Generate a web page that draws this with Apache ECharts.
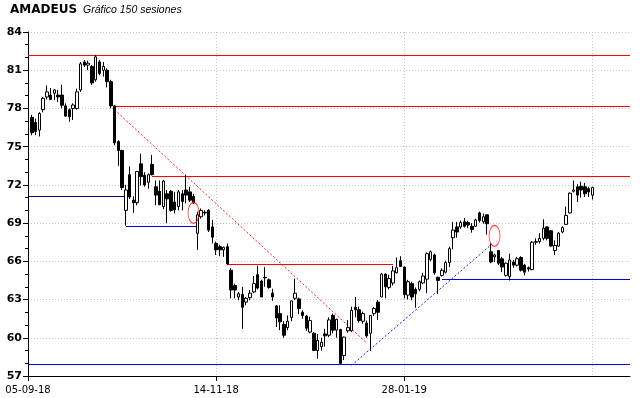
<!DOCTYPE html>
<html>
<head>
<meta charset="utf-8">
<script src="https://cdn.jsdelivr.net/npm/echarts@6.0.0/dist/echarts.min.js"></script>
<style>
  html, body { margin: 0; padding: 0; background: #fff; }
  #chart { width: 640px; height: 398px; }
</style>
</head>
<body>
<div id="chart"></div>
<script>
// slot 0 = 05-09-18, sessions sit in slots 1..150, slots 151..160 are empty space on the right
const dateLabels = ['05-09-18', '14-11-18', '28-01-19', '08-04-19']
const labelStep = 50
const slotCount = 161

const opens = [
  77.3, 76.9, 76.3, 77.9, 78.9, 79.05, 79.2, 79.05, 79.05, 78.2,
  77.9, 78.0, 78.0, 79.45, 81.65, 81.4, 81.3, 80.25, 81.65, 81.0,
  81.0, 80.1, 78.2, 75.4, 74.7, 70.0, 72.8, 70.8, 70.6, 73.65,
  72.75, 72.2, 73.6, 71.85, 71.5, 70.3, 71.3, 71.5, 70.65, 70.3,
  71.3, 71.6, 71.45, 71.1, 68.2, 69.5, 69.85, 70.0, 68.7, 67.4,
  67.15, 66.9, 67.15, 65.3, 64.1, 63.2, 63.4, 62.8, 63.15, 63.6,
  64.95, 64.45, 64.75, 64.55, 63.5, 62.5, 61.9, 61.05, 60.8, 61.6,
  63.1, 63.05, 62.0, 61.7, 60.45, 60.35, 59.0, 59.3, 60.3, 60.2,
  61.75, 60.6, 60.65, 58.6, 60.55, 60.55, 62.4, 62.2, 61.3, 61.15,
  60.35, 61.9, 62.8, 63.2, 65.0, 63.95, 64.3, 65.1, 66.05, 65.55,
  63.35, 64.25, 63.8, 63.8, 64.3, 64.6, 66.15, 66.5, 64.75, 64.9,
  65.15, 65.9, 67.85, 68.7, 68.7, 69.1, 69.05, 68.75, 68.75, 69.8,
  69.1, 69.65, 66.75, 66.35, 66.85, 66.2, 64.9, 64.8, 65.95, 65.7,
  66.3, 65.7, 65.5, 65.35, 67.5, 67.55, 67.8, 68.7, 68.4, 66.85,
  67.2, 68.3, 68.9, 69.8, 71.5, 71.85, 71.9, 71.85, 71.7, 71.2
]
const highs = [
  77.5, 77.2, 77.7, 78.9, 79.8, 79.6, 79.5, 79.45, 79.85, 78.4,
  78.0, 78.4, 79.55, 81.65, 81.8, 81.75, 81.4, 82.2, 81.8, 81.65,
  81.15, 80.25, 78.27, 75.5, 74.75, 72.0, 73.45, 71.1, 73.1, 74.45,
  73.0, 72.9, 74.35, 72.35, 72.35, 72.4, 71.6, 71.6, 71.45, 71.6,
  71.6, 72.8, 71.85, 71.3, 69.9, 70.15, 70.0, 70.1, 69.25, 67.55,
  67.3, 67.15, 67.4, 65.45, 64.25, 63.6, 64.0, 63.2, 63.75, 64.85,
  65.65, 64.55, 65.55, 64.65, 63.85, 62.55, 62.55, 61.3, 61.75, 62.9,
  64.65, 63.15, 62.15, 61.8, 61.65, 60.45, 60.3, 60.0, 60.7, 61.6,
  61.9, 61.5, 60.7, 60.1, 61.4, 62.45, 63.2, 62.45, 62.05, 61.35,
  61.8, 62.4, 62.95, 65.1, 65.05, 64.95, 65.65, 66.3, 66.4, 65.6,
  64.55, 64.4, 63.95, 64.5, 65.1, 66.7, 66.85, 66.6, 64.8, 65.45,
  66.05, 67.15, 69.1, 69.1, 69.2, 69.4, 69.2, 69.0, 69.35, 69.9,
  69.75, 69.7, 67.4, 66.6, 66.9, 66.35, 65.9, 66.6, 66.1, 66.35,
  66.4, 65.8, 65.6, 67.6, 67.8, 68.2, 69.3, 68.75, 68.45, 67.65,
  68.3, 68.75, 70.3, 71.4, 72.35, 72.05, 72.25, 72.15, 71.85, 71.85
]
const lows = [
  75.9, 75.9, 75.8, 77.7, 78.7, 78.65, 78.65, 78.5, 78.0, 77.35,
  76.95, 77.1, 77.9, 79.3, 81.25, 81.0, 79.85, 80.1, 80.6, 80.5,
  79.65, 78.0, 75.1, 73.5, 71.6, 68.8, 70.9, 69.8, 70.4, 71.95,
  71.85, 71.7, 72.75, 70.4, 70.4, 70.1, 69.0, 69.9, 69.75, 70.0,
  70.0, 70.55, 70.65, 70.5, 66.9, 69.35, 69.6, 68.3, 67.4, 66.5,
  66.4, 66.35, 65.7, 63.1, 63.1, 62.95, 60.7, 62.55, 62.95, 63.5,
  63.8, 63.2, 64.0, 63.85, 62.9, 60.85, 60.6, 60.0, 60.6, 61.3,
  62.95, 61.85, 61.5, 60.55, 60.35, 58.95, 58.35, 59.0, 59.3, 60.05,
  60.35, 60.0, 57.97, 58.25, 60.4, 60.45, 61.6, 61.2, 61.1, 60.0,
  58.95, 61.7, 61.4, 63.2, 63.1, 63.8, 64.1, 65.05, 65.55, 63.1,
  63.0, 62.95, 62.35, 63.65, 64.2, 63.5, 66.0, 64.95, 63.45, 64.8,
  65.05, 65.55, 66.95, 67.85, 68.55, 68.65, 68.6, 68.25, 68.7, 69.05,
  68.95, 68.1, 65.85, 65.95, 65.7, 65.15, 64.8, 64.5, 65.5, 65.6,
  65.2, 64.9, 65.2, 65.3, 67.3, 67.4, 67.65, 67.65, 67.15, 66.5,
  67.15, 68.2, 68.85, 69.75, 71.4, 70.65, 71.0, 71.05, 71.05, 70.85
]
const closes = [
  76.1, 76.2, 77.6, 78.8, 79.3, 78.7, 79.45, 78.9, 78.25, 77.4,
  77.35, 78.27, 79.3, 81.5, 81.4, 81.55, 80.0, 82.05, 80.75, 81.3,
  80.1, 78.2, 75.3, 74.7, 71.8, 71.6, 71.05, 70.6, 73.05, 72.65,
  72.0, 72.8, 72.8, 71.2, 70.45, 72.3, 70.9, 70.0, 70.05, 71.45,
  70.7, 71.2, 70.8, 70.6, 69.65, 70.0, 69.8, 68.45, 67.9, 66.9,
  66.9, 67.1, 65.8, 63.75, 63.75, 63.45, 62.4, 63.1, 63.5, 64.25,
  63.9, 63.2, 64.7, 63.95, 63.2, 61.55, 61.25, 60.2, 61.3, 62.9,
  63.5, 62.3, 61.75, 60.75, 61.35, 59.0, 59.8, 59.65, 60.15, 61.4,
  60.6, 61.45, 58.0, 60.05, 60.8, 62.15, 62.2, 61.35, 61.9, 60.15,
  61.75, 62.3, 62.0, 65.0, 64.0, 64.65, 65.25, 65.5, 65.6, 63.4,
  64.4, 63.2, 63.45, 64.4, 64.85, 66.6, 66.75, 65.1, 64.5, 65.3,
  65.9, 67.0, 68.45, 68.3, 69.05, 68.75, 68.85, 68.5, 69.25, 69.2,
  69.5, 68.95, 65.95, 66.5, 65.85, 65.55, 65.85, 66.1, 65.7, 66.2,
  65.3, 65.15, 65.4, 67.5, 67.55, 67.8, 68.6, 67.8, 67.2, 67.25,
  68.2, 68.65, 69.6, 71.35, 71.6, 71.2, 71.6, 71.3, 71.45, 71.8
]

// [price, first slot, last slot]
const resistances = [[82.2, 0, 160], [78.2, 23, 160], [72.7, 33, 160], [65.8, 53, 97]]
const supports = [[57.97, 0, 160], [64.65, 110, 160], [68.76, 26, 45]]
const previousLevel = [[71.14, 0, 26]]
const downTrend = [[23, 77.9], [90, 59.6]]
const upTrend = [[86, 57.84], [123, 67.27]]
const breakouts = [[44, 69.8], [124, 68.0]]

const slots = Array.from({ length: slotCount }, (_, i) => String(i))
const candles = slots.map((_, i) =>
  i >= 1 && i <= opens.length
    ? [opens[i - 1], closes[i - 1], lows[i - 1], highs[i - 1]]
    : '-'
)

const isLabelSlot = i => i % labelStep === 0

// horizontal levels drawn as 1px filled rects on whole pixels so they stay crisp
const levelSeries = (levels, color) => ({
  type: 'custom',
  data: levels,
  encode: { x: [1, 2], y: 0 },
  silent: true,
  z: 3,
  itemStyle: { color: color },
  renderItem: (params, api) => {
    const a = api.coord([api.value(1), api.value(0)])
    const b = api.coord([api.value(2), api.value(0)])
    const x = Math.round(a[0])
    return {
      type: 'rect',
      shape: { x: x, y: Math.round(a[1]), width: Math.round(b[0]) - x, height: 1 },
      style: { fill: color, stroke: null }
    }
  }
})

const series = [
  {
    type: 'candlestick',
    data: candles,
    barWidth: 3,
    z: 4,
    itemStyle: {
      color: '#ffffff',
      color0: '#000000',
      borderColor: '#000000',
      borderColor0: '#000000',
      borderWidth: 1
    }
  },
  levelSeries(resistances, '#ff0000'),
  levelSeries(supports, '#0000e6'),
  levelSeries(previousLevel, '#000080'),
  {
    type: 'line',
    data: downTrend,
    symbol: 'none',
    z: 3,
    lineStyle: { color: '#ff1a1a', width: 1, type: [2, 2] }
  },
  {
    type: 'line',
    data: upTrend,
    symbol: 'none',
    z: 3,
    lineStyle: { color: '#1a1aff', width: 1, type: [2, 2] }
  },
  {
    type: 'scatter',
    data: breakouts,
    symbol: 'circle',
    symbolSize: [11, 21],
    z: 5,
    itemStyle: { color: 'transparent', borderColor: '#ff0000', borderWidth: 1 }
  }
]

const chart = echarts.init(document.getElementById('chart'))
chart.setOption({
  animation: false,
  backgroundColor: '#ffffff',
  graphic: [
    {
      type: 'text', left: 10, top: 4,
      style: { text: 'AMADEUS', font: 'bold 12px "DejaVu Sans"', fill: '#000' }
    },
    {
      type: 'text', left: 83, top: 5,
      style: { text: 'Gráfico 150 sesiones', font: 'italic 10.5px "Liberation Sans"', fill: '#000' }
    }
  ],
  grid: { left: 28, right: 10, top: 32, bottom: 22, containLabel: false },
  xAxis: {
    type: 'category',
    data: slots,
    boundaryGap: false,
    axisLine: { lineStyle: { color: '#000', width: 1 } },
    axisTick: { show: true, interval: isLabelSlot, length: 5, lineStyle: { color: '#000' } },
    axisLabel: {
      interval: isLabelSlot,
      showMinLabel: true,
      showMaxLabel: false,
      margin: 9,
      color: '#000',
      fontSize: 10,
      fontFamily: 'DejaVu Sans',
      formatter: (v, i) => (isLabelSlot(i) ? dateLabels[i / labelStep] : '')
    },
    splitLine: {
      show: true,
      interval: i => i > 0 && isLabelSlot(i),
      lineStyle: { color: '#c8c8c8', type: [1, 2] }
    }
  },
  yAxis: {
    type: 'value',
    min: 57,
    max: 84,
    interval: 3,
    axisLine: { show: true, lineStyle: { color: '#000', width: 1 } },
    axisTick: { show: true, length: 5, lineStyle: { color: '#000' } },
    minorTick: { show: true, splitNumber: 3, length: 3, lineStyle: { color: '#000' } },
    axisLabel: {
      margin: 6,
      color: '#000',
      fontSize: 11,
      fontWeight: 'bold',
      fontFamily: 'DejaVu Sans'
    },
    splitLine: { show: true, lineStyle: { color: '#c8c8c8', type: [1, 2] } }
  },
  series: series
})
</script>
</body>
</html>
